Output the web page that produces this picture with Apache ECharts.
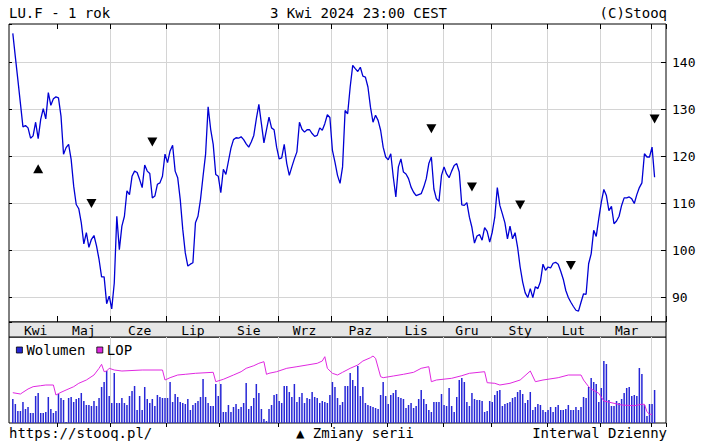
<!DOCTYPE html>
<html><head><meta charset="utf-8">
<script src="https://cdn.jsdelivr.net/npm/echarts@6/dist/echarts.min.js"></script>
<style>html,body{margin:0;padding:0;background:#fff}#c{width:708px;height:442px}</style>
</head><body><div id="c"></div>
<script>
// ---- data ----
const monthNames = ['Kwi','Maj','Cze','Lip','Sie','Wrz','Paz','Lis','Gru','Sty','Lut','Mar','Kwi'];
const monthDays  = [18,21,22,21,23,21,22,22,19,22,21,20,2];

const closeKwi  = [146.1,141.1,136.2,131.2,126.2,126.5,126.0,123.8,124.3,127.2,123.7,127.8,130.1,127.9,133.5,130.8,132.2,132.6];
const closeMaj  = [132.4,128.5,120.4,121.8,122.5,119.3,113.6,109.7,108.8,105.8,101.3,103.7,100.6,102.3,103.1,100.9,98.0,94.3,94.3,88.6,90.2];
const closeCze  = [87.5,93.0,107.2,100.1,105.1,107.2,112.6,111.8,115.7,116.8,116.5,115.0,113.3,118.1,116.8,116.3,111.1,111.5,114.0,114.3,115.7,120.4];
const closeLip  = [118.6,121.1,122.3,116.8,115.4,110.8,104.4,99.4,96.6,97.0,97.3,105.8,107.2,110.8,115.7,120.4,130.5,125.7,122.5,116.1,115.7];
const closeSie  = [112.2,117.2,116.1,118.9,121.7,123.5,123.9,123.8,124.1,123.5,122.6,121.9,123.0,124.4,127.9,131.0,126.9,122.8,125.6,128.3,126.0,125.6,121.9];
const closeWrz  = [119.4,119.6,122.5,118.4,115.9,117.7,119.4,120.9,127.2,125.7,125.1,125.6,125.6,124.8,124.2,124.4,126.0,125.5,126.9,128.8,128.2];
const closePaz  = [121.2,118.7,115.9,114.2,117.7,129.7,129.0,134.7,139.3,138.6,138.0,138.9,137.0,136.8,134.7,130.4,127.2,128.7,127.6,125.5,121.9,119.8];
const closeLis  = [119.2,120.5,115.5,111.3,117.7,119.4,116.6,116.2,115.2,113.4,112.3,111.6,111.8,112.0,113.4,115.2,118.4,119.8,113.0,110.9,110.4,115.9];
const closeGru  = [117.7,116.2,115.4,116.8,118.0,118.4,116.6,109.6,109.5,110.1,107.0,104.8,101.5,103.0,103.3,102.1,104.8,104.0,101.7];
const closeSty  = [103.8,107.0,113.3,109.5,107.7,105.8,102.4,105.1,102.4,103.7,100.6,96.4,93.2,90.9,89.9,91.8,89.9,92.2,91.8,93.3,97.0,95.7];
const closeLut  = [96.4,96.2,97.2,97.4,97.0,95.5,93.8,91.4,89.9,88.9,88.0,87.2,87.0,88.9,90.7,90.6,97.1,99.2,104.2,102.9,106.7];
const closeMar  = [110.2,112.9,111.6,108.4,109.3,105.6,106.2,107.2,109.5,111.1,111.1,111.3,110.9,109.9,111.8,113.3,114.3,120.5,119.8,119.8];
const closeKwi24= [121.9,115.5];

const volKwi  = [240,190,120,120,210,140,160,100,100,270,300,100,100,110,260,140,100,120];
const volMaj  = [290,250,230,10,250,260,210,240,250,300,220,180,180,170,220,170,250,360,410,520,270];
const volCze  = [200,500,200,200,250,200,180,270,320,370,130,270,130,360,240,200,240,170,280,260,250,250];
const volLip  = [250,410,210,290,260,210,200,190,240,130,180,200,220,260,440,260,200,170,170,390,270];
const volSie  = [390,110,110,180,110,160,190,140,160,200,400,140,170,250,390,300,140,40,20,140,180,280,290];
const volWrz  = [220,200,370,370,310,260,390,210,260,300,200,250,240,310,260,250,200,220,210,200,280];
const volPaz  = [410,360,250,180,210,370,370,500,430,370,570,270,360,200,180,170,160,150,140,280,410,270];
const volLis  = [190,280,300,330,260,250,240,150,180,200,150,170,240,330,240,190,130,110,210,210,210,290];
const volGru  = [180,170,350,170,110,260,430,450,410,210,170,300,240,230,230,220,110,120,220];
const volSty  = [210,280,320,330,170,190,200,210,250,260,310,330,290,200,230,310,130,160,190,180,130,110];
const volLut  = [130,160,110,160,180,130,130,140,180,130,130,160,130,160,260,250,360,450,410,390,210];
const volMar  = [350,620,590,230,170,170,220,200,240,300,350,360,270,280,270,550,490,180,70,190];
const volKwi24= [190,330];

// LOP (open interest) vertices: trading-day number and level
const lopDay = [0,3,4,6,8,11,13,16,17,19,21,24,26,29,32,34,35,36,37,38,40,43,51,59,60,62,65,68,72,79,80,83,87,90,92,95,97,99,100,101,104,108,112,116,120,122,123,124,126,128,130,133,136,138,141,142,143,145,146,150,154,158,161,164,165,167,173,177,180,186,187,190,192,196,200,204,206,209,215,219,224,225,227,228,231,233,237,240,245,248,249,250,251,252];
const lopVal = [3030,2900,3070,3400,3630,3730,3800,3800,2800,3070,3300,3630,3970,4300,4800,5470,5870,5130,5200,5470,5300,5200,5300,5300,4300,4530,4800,4870,4970,5070,4130,4370,4800,5130,5470,5730,5970,6130,4870,4970,5130,5470,5630,5800,5970,6200,6630,5470,4970,4800,5070,5470,5800,6200,6530,6700,6470,4630,4530,4700,4870,5070,5470,5630,4130,4300,4470,4730,4970,5130,4030,3970,3800,3970,4300,5200,4130,4300,4530,4800,4800,4300,3630,3400,2970,2200,1970,1800,1730,1870,1870,1130,870,870];

// series-change markers
const markDay   = [10,31,55,165,181,200,220,253];
const markLevel = [117.3,109.9,123.0,125.8,113.4,109.6,96.7,127.9];
const markUp    = [true,false,false,false,false,false,false,false];

// ---- build ----
const close = [].concat(closeKwi,closeMaj,closeCze,closeLip,closeSie,closeWrz,closePaz,closeLis,closeGru,closeSty,closeLut,closeMar,closeKwi24);
const volume = [].concat(volKwi,volMaj,volCze,volLip,volSie,volWrz,volPaz,volLis,volGru,volSty,volLut,volMar,volKwi24);

const PADL = 1, PADR = 4;
const cats = [''];
const startSet = new Set(), labelSet = new Set();
let s = 0;
monthDays.forEach((n, m) => {
  for (let k = 0; k < n; k++) cats.push(monthNames[m] + '|' + (k + 1));
  if (s > 0) startSet.add(s + PADL);
  if (n >= 5) labelSet.add(Math.round(s + (n - 1) / 2) + PADL);
  s += n;
});
for (let k = 0; k < PADR; k++) cats.push('');

const FONT = "'DejaVu Sans Mono', monospace";
const tickFn = (i) => startSet.has(i);
const GRID = '#d4d4d4';

const catAxis = (extra) => Object.assign({
  type: 'category', data: cats, boundaryGap: true,
  axisLine: {show: false}, axisLabel: {show: false}, axisTick: {show: false}, splitLine: {show: false}
}, extra);

const txt = (text, pos, size) => Object.assign({
  text, padding: 0, itemGap: 0,
  textStyle: {fontFamily: FONT, fontSize: size || 14, fontWeight: 'normal', color: '#000'}
}, pos);

const option = {
  animation: false,
  backgroundColor: '#fff',
  title: [
    txt('LU.F - 1 rok', {left: 9, top: 6}),
    txt('3 Kwi 2024 23:00 CEST', {left: 270, top: 6}),
    txt('(C)Stooq', {right: 41, top: 6}),
    txt('https://stooq.pl/', {left: 9, top: 426}),
    txt('\u25B2 Zmiany serii', {left: 296, top: 426}),
    txt('Interwal Dzienny', {right: 41, top: 426})
  ],
  legend: {
    left: 16, top: 343, padding: 0, itemWidth: 6, itemHeight: 6, itemGap: 11, icon: 'rect',
    textStyle: {fontFamily: FONT, fontSize: 14, color: '#000', padding: [0,0,0,-1]},
    itemStyle: {borderColor: '#000', borderWidth: 0.8},
    data: ['Wolumen', 'LOP']
  },
  grid: [
    {left: 9, right: 42, top: 24, height: 298, show: true, borderColor: '#000', borderWidth: 1, backgroundColor: '#fff'},
    {left: 9, right: 42, top: 337, height: 86, show: true, borderColor: '#000', borderWidth: 1, backgroundColor: '#fff'},
    {left: 9, right: 42, top: 322, height: 15, show: true, borderColor: '#000', borderWidth: 1, backgroundColor: '#e6e6e6'}
  ],
  xAxis: [
    catAxis({gridIndex: 0, position: 'bottom',
      axisTick: {show: true, inside: true, length: 6, interval: tickFn, lineStyle: {color: '#000'}},
      axisLabel: {show: true, interval: (i) => labelSet.has(i), formatter: (v) => v.split('|')[0],
        margin: 2, fontFamily: FONT, fontSize: 13, color: '#000'},
      splitLine: {show: true, interval: tickFn, showMinLine: false, showMaxLine: false, lineStyle: {color: GRID, width: 1}}}),
    catAxis({gridIndex: 0, position: 'top',
      axisTick: {show: true, inside: true, length: 5, interval: tickFn, lineStyle: {color: '#000'}}}),
    catAxis({gridIndex: 1, position: 'top',
      axisTick: {show: true, inside: true, length: 4, interval: tickFn, lineStyle: {color: '#000'}},
      splitLine: {show: true, interval: tickFn, showMinLine: false, showMaxLine: false, lineStyle: {color: GRID, width: 1}}}),
    catAxis({gridIndex: 2, show: false})
  ],
  yAxis: [
    {type: 'value', gridIndex: 0, position: 'right', min: 84.7, max: 148.1, splitNumber: 6,
      axisLine: {show: false},
      axisTick: {show: true, inside: true, length: 5, lineStyle: {color: '#000'}},
      axisLabel: {margin: 6, fontFamily: FONT, fontSize: 13, color: '#000', showMinLabel: false, showMaxLabel: false},
      splitLine: {show: true, showMinLine: false, showMaxLine: false, lineStyle: {color: GRID, width: 1}}},
    {type: 'value', gridIndex: 0, position: 'left', min: 84.7, max: 148.1, splitNumber: 6,
      axisLine: {show: false}, axisLabel: {show: false}, splitLine: {show: false},
      axisTick: {show: true, inside: true, length: 3, lineStyle: {color: '#000'}}},
    {type: 'value', gridIndex: 1, min: 0, max: 860, show: false, splitLine: {show: false}},
    {type: 'value', gridIndex: 1, min: 0, max: 8600, show: false, splitLine: {show: false}},
    {type: 'value', gridIndex: 2, show: false}
  ],
  series: [
    {name: 'Kurs', type: 'line', xAxisIndex: 0, yAxisIndex: 0, showSymbol: false, symbol: 'none',
      lineStyle: {color: '#0000d4', width: 1.3}, itemStyle: {color: '#0000d4'},
      data: close.map((v, i) => [i + PADL, v]), z: 3},
    {name: 'Zmiany serii', type: 'scatter', xAxisIndex: 0, yAxisIndex: 0, symbol: 'triangle', symbolSize: [10, 9],
      itemStyle: {color: '#000', opacity: 1},
      data: markDay.map((d, i) => ({value: [d + PADL, markLevel[i]], symbolRotate: markUp[i] ? 0 : 180})), z: 4},
    {name: 'Wolumen', type: 'bar', xAxisIndex: 2, yAxisIndex: 2, barWidth: 1.5,
      itemStyle: {color: '#2626d6'}, data: volume.map((v, i) => [i + PADL, v])},
    {name: 'LOP', type: 'line', xAxisIndex: 2, yAxisIndex: 3, showSymbol: false, symbol: 'none',
      lineStyle: {color: '#e028e0', width: 1}, itemStyle: {color: '#e028e0'},
      data: lopDay.map((d, i) => [d + PADL, lopVal[i]]), z: 3}
  ]
};

const chart = echarts.init(document.getElementById('c'), null, {renderer: 'svg', width: 708, height: 442});
chart.setOption(option);
</script>
</body></html>
